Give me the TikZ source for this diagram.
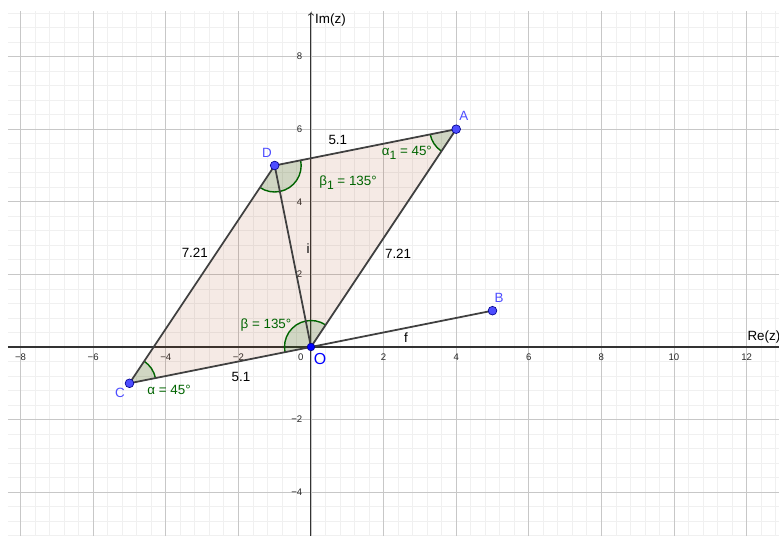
\documentclass[tikz,border=0pt]{standalone}
\usepackage{fontspec}
\setmainfont{Liberation Sans}
\usetikzlibrary{angles}

\definecolor{grigiolato}{RGB}{64,64,64}
\definecolor{verdeangolo}{RGB}{0,100,0}
\definecolor{bluepunto}{RGB}{77,77,255}
\definecolor{marrone}{RGB}{153,51,0}
\newcommand{\pedice}[1]{\raisebox{-0.55ex}{\fontsize{9.5}{10}\selectfont #1}}

\begin{document}
\begin{tikzpicture}[
    font=\fontsize{10.5}{12}\selectfont,
    punto/.style={circle,draw=blue!55!black,line width=0.5pt,fill=bluepunto,
                  inner sep=0pt,minimum size=2.4mm},
    lato/.style={line width=1.4pt,draw=grigiolato},
    angolo/.style={draw=verdeangolo,line width=1.1pt,fill=verdeangolo,
                   fill opacity=0.15,angle radius=0.73cm},
    testoang/.style={text=verdeangolo},
    nomepunto/.style={text=bluepunto},
    tacca/.style={font=\fontsize{7.5}{8}\selectfont,text=black!85,inner sep=1pt}]

  % --- cornice e griglia ---
  \useasboundingbox (-8.567,-5.207) rectangle (12.893,9.559);
  \draw[black!6,line width=0.6pt,step=0.4] (-8.35,-5.207) grid (12.893,9.26);
  \draw[black!22,line width=0.7pt,step=2] (-8.35,-5.207) grid (12.893,9.26);

  % --- assi ---
  \draw[line width=0.8pt,black!80] (-8.35,0) -- (12.893,0);
  \draw[line width=0.8pt,black!80,-to] (0,-5.207) -- (0,9.22);
  \node[anchor=west,inner sep=0pt] (rez) at (12.02,0.27) {Re(z)};
  \node[anchor=west,inner sep=0pt] (imz) at (0.11,9.0) {Im(z)};

  % --- numeri sugli assi ---
  \foreach \x/\t in {-8/−8,-6/−6,-4/−4,-2/−2,2/2,4/4,6/6,8/8,10/10,12/12}{
    \node[tacca] (tx\x) at (\x,-0.28) {\t};
  }
  \foreach \y/\t in {8/8,6/6,4/4,2/2,-2/−2,-4/−4}{
    \node[tacca,anchor=east] (ty\y) at (-0.2,\y) {\t};
  }
  \node[tacca] (t0) at (-0.28,-0.28) {0};

  % --- i punti ---
  \coordinate (O) at (0,0);
  \coordinate (A) at (4,6);
  \coordinate (D) at (-1,5);
  \coordinate (C) at (-5,-1);
  \coordinate (B) at (5,1);

  % --- parallelogramma ---
  \fill[marrone,fill opacity=0.1] (O) -- (A) -- (D) -- (C) -- cycle;

  % --- angoli ---
  \pic[angolo] {angle=O--C--D};
  \pic[angolo] {angle=D--A--O};
  \pic[angolo] {angle=C--D--A};
  \pic[angolo] {angle=A--O--C};

  % --- i lati ---
  \draw[lato] (C) -- (O);
  \draw[lato] (O) -- (A);
  \draw[lato] (A) -- (D);
  \draw[lato] (D) -- (C);
  \draw[lato] (D) -- (O);
  \draw[lato] (O) -- (B);

  % --- etichette dei lati ---
  \node (lDA) at (0.74,5.70) {5.1};
  \node (lCO) at (-1.93,-0.83) {5.1};
  \node (lDC) at (-3.2,2.59) {7.21};
  \node (lOA) at (2.4,2.56) {7.21};
  \node (lDO) at (-0.08,2.7) {i};
  \node (lOB) at (2.62,0.25) {f};

  % --- etichette degli angoli ---
  \node[testoang] (aC) at (-3.91,-1.18) {α = 45°};
  \node[testoang] (aO) at (-1.24,0.61) {β = 135°};
  \node[testoang] (aA) at (2.64,5.34) {α\pedice{1} = 45°};
  \node[testoang] (aD) at (1.02,4.52) {β\pedice{1} = 135°};

  % --- punti e nomi ---
  \node[punto] (pA) at (A) {};
  \node[punto] (pD) at (D) {};
  \node[punto] (pC) at (C) {};
  \node[punto] (pB) at (B) {};
  \node[punto,fill=blue,minimum size=2.1mm] (pO) at (O) {};
  \node[nomepunto] (nA) at (4.21,6.36) {A};
  \node[nomepunto] (nD) at (-1.21,5.34) {D};
  \node[nomepunto] (nC) at (-5.26,-1.27) {C};
  \node[nomepunto] (nB) at (5.18,1.35) {B};
  \node[text=blue,font=\fontsize{12.5}{14}\selectfont] (nO) at (0.25,-0.33) {O};

\end{tikzpicture}
\end{document}
